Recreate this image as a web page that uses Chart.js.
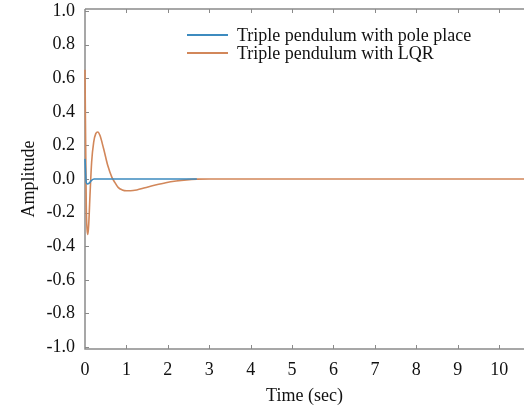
<!DOCTYPE html>
<html>
<head>
<meta charset="utf-8">
<script src="https://cdn.jsdelivr.net/npm/chart.js@4/dist/chart.umd.min.js"></script>
<style>
  html, body { margin: 0; padding: 0; background: #fff; }
  #wrap { width: 524px; height: 407px; }
</style>
</head>
<body>
<div id="wrap"><canvas id="respuestaChart"></canvas></div>
<script>
// Datos
const seriesNames = ['Triple pendulum with pole place', 'Triple pendulum with LQR'];

const tPole = [0, 0.03, 0.06, 0.1, 0.15, 0.22, 0.3, 1.0, 2.7];
const yPole = [0.12, -0.02, -0.03, -0.025, -0.01, 0, 0, 0, 0];

const tLqr = [0, 0.03, 0.05, 0.07, 0.09, 0.12, 0.16, 0.21, 0.26, 0.31, 0.36, 0.45, 0.55, 0.65, 0.72,
  0.8, 0.9, 1.0, 1.1, 1.25, 1.45, 1.7, 1.95, 2.2, 2.45, 2.7, 3.0, 10.6];
const yLqr = [0.65, -0.15, -0.3, -0.33, -0.27, -0.1, 0.1, 0.22, 0.27, 0.28, 0.26, 0.18, 0.08, 0.01, -0.02,
  -0.05, -0.065, -0.07, -0.07, -0.065, -0.052, -0.036, -0.022, -0.012, -0.005, -0.001, 0, 0];

const xTicks = [0, 1, 2, 3, 4, 5, 6, 7, 8, 9, 10];
const yTicks = [-1.0, -0.8, -0.6, -0.4, -0.2, 0.0, 0.2, 0.4, 0.6, 0.8, 1.0];

const colors = ['#3d8bbf', '#d2875a'];
const fuente = 'Liberation Serif, Times New Roman, serif';

const toPoints = (xs, ys) => xs.map((x, i) => ({ x, y: ys[i] }));

// Marco con marcas hacia dentro (debajo de las curvas)
const marcoPlugin = {
  id: 'marco',
  beforeDatasetsDraw(chart) {
    const { ctx, chartArea: a, scales } = chart;
    ctx.save();
    ctx.strokeStyle = '#8a8a8a';
    ctx.lineWidth = 1.5;
    ctx.beginPath();
    ctx.moveTo(a.left, a.top);
    ctx.lineTo(a.right + 1, a.top);
    ctx.moveTo(a.left, a.top);
    ctx.lineTo(a.left, a.bottom);
    ctx.lineTo(a.right + 1, a.bottom);
    ctx.stroke();
    ctx.lineWidth = 1;
    ctx.beginPath();
    xTicks.forEach(v => {
      const px = Math.round(scales.x.getPixelForValue(v)) + 0.5;
      if (v === 0) return;
      ctx.moveTo(px, a.bottom);
      ctx.lineTo(px, a.bottom - 4);
      ctx.moveTo(px, a.top);
      ctx.lineTo(px, a.top + 4);
    });
    yTicks.forEach(v => {
      const py = Math.round(scales.y.getPixelForValue(v)) + 0.5;
      ctx.moveTo(a.left, py);
      ctx.lineTo(a.left + 4, py);
    });
    ctx.stroke();
    ctx.restore();
  },
  // leyenda dentro del area
  afterDraw(chart) {
    const { ctx } = chart;
    ctx.save();
    ctx.font = '18px ' + fuente;
    ctx.textBaseline = 'middle';
    ctx.fillStyle = '#111';
    seriesNames.forEach((name, i) => {
      const y = 35 + i * 18;
      ctx.strokeStyle = colors[i];
      ctx.lineWidth = 2;
      ctx.beginPath();
      ctx.moveTo(187, y);
      ctx.lineTo(228, y);
      ctx.stroke();
      ctx.fillText(name, 237, y + 1);
    });
    ctx.restore();
  }
};

const chart = new Chart(document.getElementById('respuestaChart'), {
  type: 'line',
  data: {
    datasets: [
      {
        label: seriesNames[0],
        data: toPoints(tPole, yPole),
        borderColor: colors[0],
        borderWidth: 1.6,
        pointRadius: 0,
        cubicInterpolationMode: 'monotone',
        clip: 3,
        order: 1,
      },
      {
        label: seriesNames[1],
        data: toPoints(tLqr, yLqr),
        borderColor: colors[1],
        borderWidth: 1.6,
        pointRadius: 0,
        cubicInterpolationMode: 'monotone',
        clip: 3,
        order: 2,
      },
    ],
  },
  options: {
    responsive: true,
    maintainAspectRatio: false,
    animation: false,
    layout: { padding: { top: 9, right: 0, left: 0, bottom: 0 } },
    plugins: {
      legend: { display: false },
      tooltip: { enabled: false },
    },
    scales: {
      x: {
        type: 'linear',
        min: 0,
        max: 10.6,
        afterBuildTicks: scale => { scale.ticks = xTicks.map(value => ({ value })); },
        afterFit: scale => {
          scale.height = 58;
          scale.paddingLeft = 0;
          scale.paddingRight = 0;
        },
        border: { display: false },
        grid: { display: false, drawTicks: false },
        ticks: {
          color: '#111',
          padding: 10,
          font: { family: fuente, size: 18 },
          callback: v => String(v),
        },
        title: {
          display: true,
          text: 'Time (sec)',
          color: '#111',
          padding: { top: 4, bottom: 0 },
          font: { family: fuente, size: 18 },
        },
      },
      y: {
        min: -1.012,
        max: 1.012,
        afterBuildTicks: scale => { scale.ticks = yTicks.map(value => ({ value })); },
        afterFit: scale => {
          scale.width = 85;
          scale.paddingTop = 0;
          scale.paddingBottom = 0;
        },
        border: { display: false },
        grid: { display: false, drawTicks: false },
        ticks: {
          color: '#111',
          padding: 10,
          font: { family: fuente, size: 18 },
          callback: v => Number(v).toFixed(1),
        },
        title: {
          display: true,
          text: 'Amplitude',
          color: '#111',
          padding: { top: 18, bottom: 0 },
          font: { family: fuente, size: 18 },
        },
      },
    },
  },
  plugins: [marcoPlugin],
});
</script>
</body>
</html>
